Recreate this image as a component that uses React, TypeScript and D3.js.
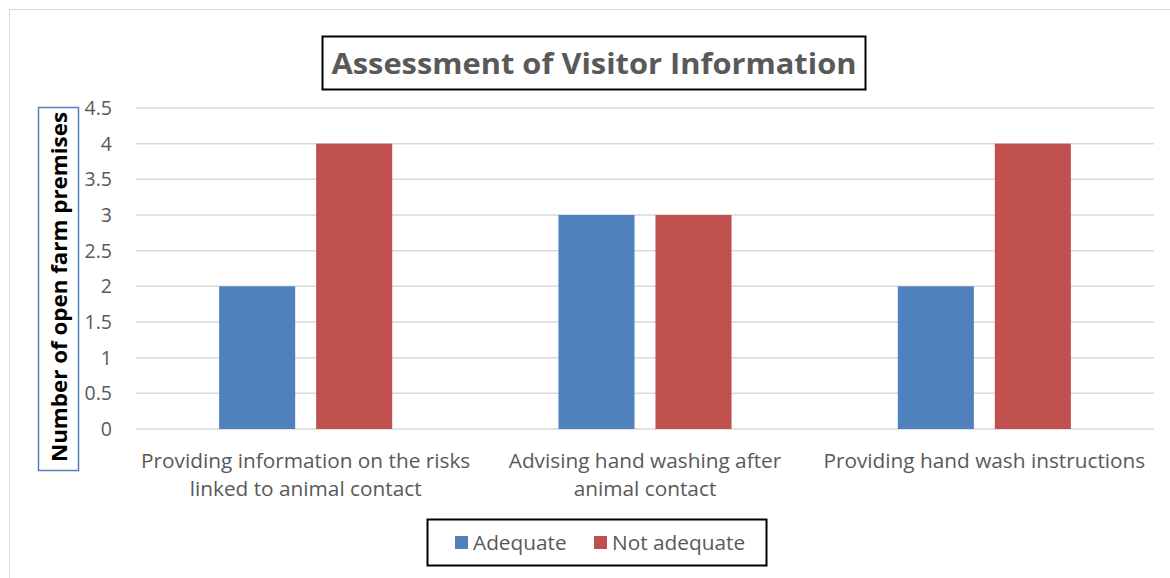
import * as React from 'react';
import * as d3 from 'd3';

const categories: string[][] = [
    ['Providing information on the risks', 'linked to animal contact'],
    ['Advising hand washing after', 'animal contact'],
    ['Providing hand wash instructions'],
];
const seriesNames = ['Adequate', 'Not adequate'];
const adequate = [2, 3, 2];
const notAdequate = [4, 3, 4];
const yTicks = [0, 0.5, 1, 1.5, 2, 2.5, 3, 3.5, 4, 4.5];
const colors = ['#4F81BD', '#C0504D'];

const FONT = '"Open Sans", Lato, sans-serif';

export default function App() {
    const width = 1170;
    const height = 578;

    const x = d3.scaleBand<number>().domain([0, 1, 2]).range([136, 1154]);
    const inner = d3.scaleBand<number>().domain([0, 1]).range([0, x.bandwidth()])
        .paddingInner(0.216).paddingOuter(0.857);
    const y = d3.scaleLinear().domain([0, 4.5]).range([429, 108]);

    const values = [adequate, notAdequate];

    return (
        <svg width={width} height={height} style={{ position: 'absolute', left: 0, top: 0, fontFamily: FONT }}>
            <rect x={0} y={0} width={width} height={height} fill="#fff" />
            <rect x={9.5} y={9.5} width={width + 10} height={height + 10} fill="none" stroke="#d9d9d9" strokeWidth={1} />

            {/* title */}
            <rect x={322.5} y={36.5} width={543} height={53} fill="#fff" stroke="#000" strokeWidth={2} />
            <text x={594} y={74} textAnchor="middle" fontSize={29} fontWeight="bold" fill="#595959"
                textLength={525} lengthAdjust="spacingAndGlyphs">
                Assessment of Visitor Information
            </text>

            {/* grid + ticks */}
            {yTicks.map(t => (
                <g key={t}>
                    <line x1={136} x2={1154} y1={y(t)} y2={y(t)} stroke="#d9d9d9" strokeWidth={1.5} />
                    <text x={112} y={y(t) + 7} textAnchor="end" fontSize={19.5} fill="#595959">{t}</text>
                </g>
            ))}

            {/* bars */}
            {values.map((vals, s) => vals.map((v, i) => (
                <rect key={s + '-' + i}
                    x={(x(i) as number) + (inner(s) as number)}
                    y={y(v)}
                    width={inner.bandwidth()}
                    height={y(0) - y(v)}
                    fill={colors[s]} />
            )))}

            {/* category labels */}
            {categories.map((lines, i) => (
                <text key={i} textAnchor="middle" fontSize={20.8} fill="#595959">
                    {lines.map((l, j) => (
                        <tspan key={j} x={(x(i) as number) + x.bandwidth() / 2} y={468 + j * 28}>{l}</tspan>
                    ))}
                </text>
            ))}

            {/* y label */}
            <rect x={38.5} y={107.5} width={40} height={363} fill="#fff" stroke="#4F81BD" strokeWidth={1.5} />
            <text transform="translate(67,287) rotate(-90)" textAnchor="middle" fontSize={21} fontWeight="bold" fill="#000"
                textLength={350} lengthAdjust="spacingAndGlyphs">
                Number of open farm premises
            </text>

            {/* legend */}
            <rect x={427.5} y={519.5} width={339} height={46} fill="#fff" stroke="#000" strokeWidth={2} />
            {seriesNames.map((n, s) => (
                <g key={n} transform={`translate(${s === 0 ? 455 : 594},536)`}>
                    <rect x={0} y={0} width={13} height={13} fill={colors[s]} />
                    <text x={18} y={14} fontSize={20.8} fill="#595959">{n}</text>
                </g>
            ))}
        </svg>
    );
}
